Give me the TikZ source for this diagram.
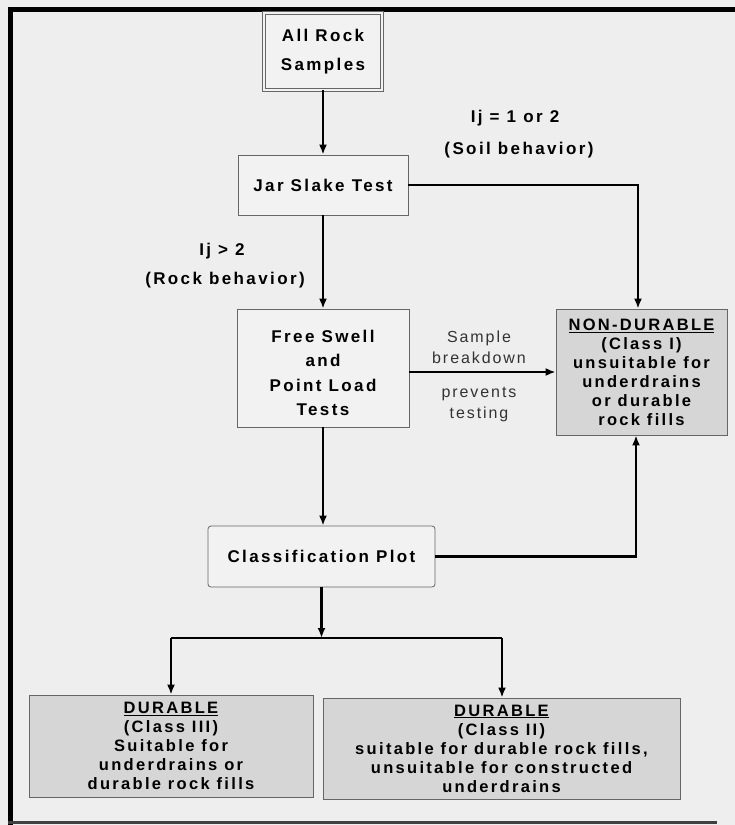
\documentclass[tikz,border=0pt]{standalone}
\usepackage{fontspec}
\setmainfont{Liberation Sans}
\newfontfamily\bxfont{Liberation Sans}[LetterSpace=14]
\newfontfamily\lbfont{Liberation Sans}[LetterSpace=12]
\usetikzlibrary{arrows.meta}
\definecolor{bgc}{HTML}{EEEEEE}
\definecolor{boxc}{HTML}{F2F2F2}
\definecolor{clsc}{HTML}{D6D6D6}
\definecolor{edgec}{HTML}{666666}
\tikzset{
  flowbox/.style={draw=edgec, line width=0.8pt, fill=boxc, align=center, inner sep=0pt,
    font=\bxfont\bfseries\fontsize{17}{24.3}\selectfont},
  classbox/.style={flowbox, fill=clsc, font=\bxfont\bfseries\fontsize{16.5}{19}\selectfont},
  conn/.style={line width=2.4pt, line join=miter, -{Latex[length=10pt,width=8pt]}},
  plainline/.style={line width=2.4pt},
  lbl/.style={font=\bxfont\bfseries\fontsize{17}{18}\selectfont, align=center},
  note/.style={font=\lbfont\fontsize{16}{21}\selectfont, text=black!80, align=center}
}
\begin{document}
\begin{tikzpicture}[x=1pt,y=-1pt]
\useasboundingbox (0,0) rectangle (735,825);
\fill[bgc] (0,0) rectangle (735,825);
% frame
\draw[line width=5pt] (10,825) -- (10,9.5) -- (735,9.5);
\draw[line width=3pt, black!75] (8,822) -- (717,822);

% nodes
\node[flowbox, double=boxc, double distance=1.5pt, minimum width=118pt, minimum height=77pt,
  font=\bxfont\bfseries\fontsize{17}{29}\selectfont] (all) at (323,51.5) {All Rock\\Samples};
\node[flowbox, minimum width=170pt, minimum height=60pt] (jar) at (323,185) {Jar Slake Test};
\node[flowbox, minimum width=172pt, minimum height=118pt] (free) at (323,368) {\vphantom{F}\\[-14pt]Free Swell\\and\\Point Load\\Tests};
\node[classbox, minimum width=171pt, minimum height=126pt] (nond) at (641.5,372)
  {\underline{NON-DURABLE}\\(Class I)\\unsuitable for\\underdrains\\or durable\\rock fills};
\node[flowbox, rounded corners=3pt, minimum width=227pt, minimum height=61pt] (cls) at (321.5,556.5) {Classification Plot};
\node[classbox, minimum width=284pt, minimum height=102pt] (d3) at (171,746)
  {\underline{DURABLE}\\(Class III)\\Suitable for\\underdrains or\\durable rock fills};
\node[classbox, minimum width=357pt, minimum height=101pt] (d2) at (501.5,748.5)
  {\underline{DURABLE}\\(Class II)\\suitable for durable rock fills,\\unsuitable for constructed\\underdrains};

% labels
\node[lbl] (l1) at (515,118) {Ij = 1 or 2};
\node[lbl] (l2) at (519,150) {(Soil behavior)};
\node[lbl] (l3) at (222,251) {Ij > 2};
\node[lbl] (l4) at (225,280) {(Rock behavior)};
\node[note] (n1) at (479,347.5) {Sample\\breakdown};
\node[note] (n2) at (479,404.5) {prevents\\testing};

% connectors
\coordinate (split) at (320,638);
\coordinate (sl) at (171,638);
\coordinate (sr) at (502,638);
\draw[conn] (all) -- (jar);
\draw[conn] (jar.east) -| ([xshift=-3.5pt]nond.north);
\draw[conn] (jar) -- (free);
\draw[conn] (free.east |- nond.west) -- (nond.west);
\draw[conn] (free.south) -- (free.south |- cls.north);
\draw[conn] (cls.east) -| ([xshift=-5.5pt]nond.south);
\draw[conn] (cls.south) -- (cls.south |- split);
\draw[plainline] (sl) -- (sr);
\draw[conn] (sl) -- (d3.north);
\draw[conn] (sr) -- (sr |- d2.north);
\end{tikzpicture}
\end{document}
